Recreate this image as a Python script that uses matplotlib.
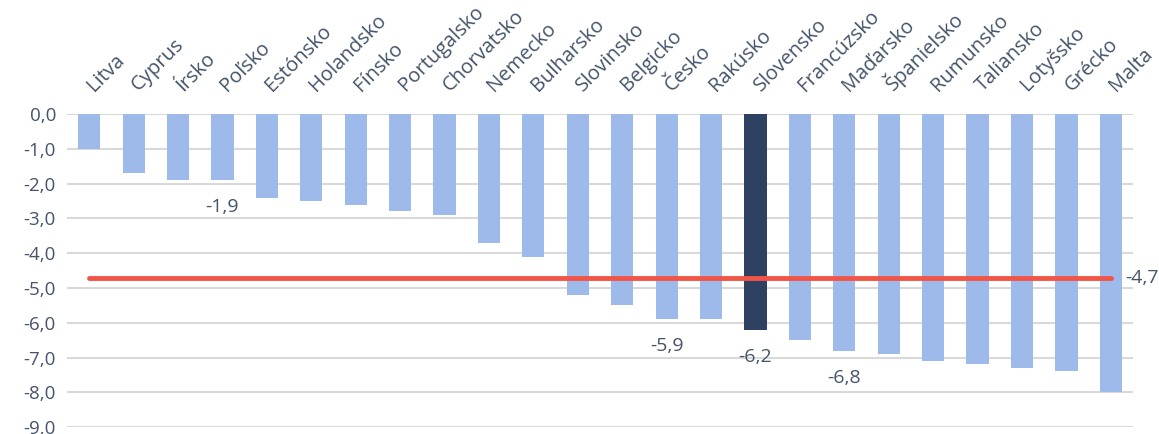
import matplotlib.pyplot as plt
from matplotlib.ticker import FuncFormatter
from matplotlib.transforms import ScaledTranslation

countries = [
    "Litva", "Cyprus", "Írsko", "Poľsko", "Estónsko", "Holandsko", "Fínsko",
    "Portugalsko", "Chorvatsko", "Nemecko", "Bulharsko", "Slovinsko", "Belgicko",
    "Česko", "Rakúsko", "Slovensko", "Francúzsko", "Maďarsko", "Španielsko",
    "Rumunsko", "Taliansko", "Lotyšsko", "Grécko", "Malta",
]
values = [
    -1.0, -1.7, -1.9, -1.9, -2.4, -2.5, -2.6, -2.8, -2.9, -3.7, -4.1, -5.2,
    -5.5, -5.9, -5.9, -6.2, -6.5, -6.8, -6.9, -7.1, -7.2, -7.3, -7.4, -8.0,
]
average = -4.7
highlight = "Slovensko"
labelled = ["Poľsko", "Česko", "Slovensko", "Maďarsko"]

TEXT = "#44546A"
LIGHT = "#9DBAEA"
DARK = "#2E4163"
RED = "#F25545"


def comma(v, _pos=None):
    return f"{v:.1f}".replace(".", ",")


plt.rcParams["font.family"] = ["Open Sans", "DejaVu Sans"]

fig = plt.figure(figsize=(11.59, 4.34), dpi=100)
ax = fig.add_axes([0.0578, 0.016, 0.9198, 0.721])

x = list(range(len(countries)))
colors = [DARK if c == highlight else LIGHT for c in countries]
ax.bar(x, values, width=0.5, color=colors, zorder=3)
ax.plot([x[0], x[-1]], [average, average], color=RED, linewidth=3.5,
        solid_capstyle="round", zorder=4)
ax.text(x[-1] + 0.33, average, comma(average), color=TEXT, fontsize=14,
        va="center", ha="left")

for name in labelled:
    i = countries.index(name)
    ax.annotate(comma(values[i]), (i, values[i]), xytext=(0, -13),
                textcoords="offset points", ha="center", va="top",
                fontsize=14, color=TEXT)

ax.set_xlim(-0.5, len(countries) - 0.5)
ax.set_ylim(-9.0, 0.0)
ax.set_yticks([-9, -8, -7, -6, -5, -4, -3, -2, -1, 0])
ax.yaxis.set_major_formatter(FuncFormatter(comma))
ax.grid(axis="y", color="#D9D9D9", linewidth=1.5, zorder=0)
for spine in ax.spines.values():
    spine.set_visible(False)

ax.set_xticks(x)
ax.set_xticklabels(countries, rotation=45, ha="left", va="baseline",
                   rotation_mode="anchor")
ax.tick_params(axis="x", top=True, labeltop=True, bottom=False,
               labelbottom=False, length=0, pad=16, labelsize=14.5,
               labelcolor=TEXT)
ax.tick_params(axis="y", length=0, pad=8, labelsize=13.5, labelcolor=TEXT)
shift = ScaledTranslation(5 / 100, 0, fig.dpi_scale_trans)
for lbl in ax.get_xticklabels():
    lbl.set_transform(lbl.get_transform() + shift)

fig.savefig("out.png", dpi=100)
